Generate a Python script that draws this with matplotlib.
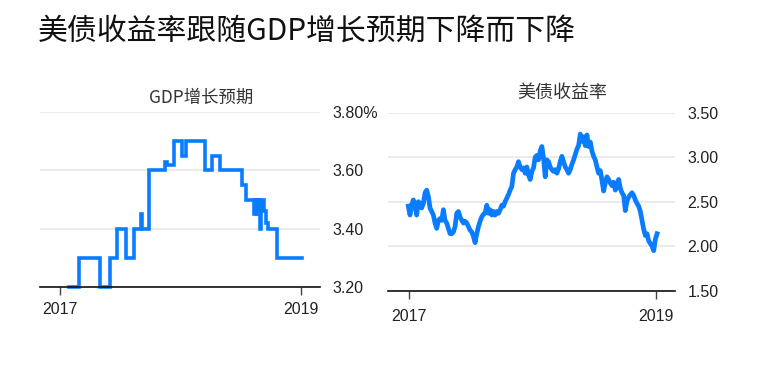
import matplotlib
matplotlib.use('Agg')
import matplotlib.pyplot as plt
import pandas as pd

plt.rcParams['font.family'] = ['Noto Sans CJK SC', 'DejaVu Sans']

BLUE = '#0a7cff'

# GDP growth expectation (step series)
gdp_dates = ['2017-01-28', '2017-02-28', '2017-05-02', '2017-06-02', '2017-06-22',
             '2017-07-19', '2017-08-13', '2017-09-03', '2017-09-07', '2017-09-28',
             '2017-11-15', '2017-11-20', '2017-12-13', '2018-01-05', '2018-01-18',
             '2018-03-17', '2018-04-08', '2018-05-01', '2018-07-06', '2018-07-19',
             '2018-08-12', '2018-08-16', '2018-08-20', '2018-08-24', '2018-08-29',
             '2018-09-02', '2018-09-10', '2018-09-18', '2018-09-24', '2018-10-20',
             '2019-01-04']
gdp_values = [3.20, 3.30, 3.20, 3.30, 3.40,
              3.30, 3.40, 3.45, 3.40, 3.60,
              3.63, 3.62, 3.70, 3.65, 3.70,
              3.60, 3.65, 3.60, 3.55, 3.50,
              3.45, 3.50, 3.45, 3.50, 3.40,
              3.50, 3.46, 3.42, 3.40, 3.30,
              3.30]
gdp_ticks = [3.20, 3.40, 3.60, 3.80]
gdp_ticklabels = ['3.20', '3.40', '3.60', '3.80%']

# US treasury yield
yield_start, yield_end = '2016-12-30', '2019-01-03'
yield_values = [
    2.45, 2.35, 2.46, 2.52, 2.46, 2.35, 2.50, 2.48, 2.43, 2.48,
    2.60, 2.63, 2.56, 2.43, 2.39, 2.35, 2.26, 2.20, 2.29, 2.31,
    2.29, 2.41, 2.29, 2.26, 2.20, 2.14, 2.14, 2.16, 2.22, 2.37,
    2.39, 2.33, 2.29, 2.26, 2.28, 2.26, 2.22, 2.18, 2.16, 2.11,
    2.04, 2.14, 2.22, 2.28, 2.33, 2.36, 2.37, 2.46, 2.37, 2.41,
    2.35, 2.39, 2.35, 2.39, 2.37, 2.41, 2.46, 2.45, 2.50, 2.54,
    2.58, 2.63, 2.67, 2.82, 2.86, 2.89, 2.95, 2.89, 2.86, 2.88,
    2.82, 2.89, 2.80, 2.75, 2.84, 2.88, 3.00, 3.02, 2.97, 3.07,
    3.12, 2.99, 2.78, 2.97, 2.95, 2.89, 2.86, 2.84, 2.86, 2.82,
    2.87, 2.95, 3.01, 2.95, 2.89, 2.86, 2.82, 2.86, 2.92, 2.97,
    3.03, 3.09, 3.13, 3.26, 3.18, 3.23, 3.13, 3.25, 3.12, 3.17,
    3.07, 3.01, 2.97, 2.89, 2.82, 2.85, 2.74, 2.62, 2.71, 2.78,
    2.75, 2.71, 2.68, 2.72, 2.63, 2.67, 2.75, 2.65, 2.60, 2.57,
    2.40, 2.51, 2.55, 2.58, 2.60, 2.57, 2.52, 2.48, 2.45, 2.39,
    2.29, 2.19, 2.12, 2.14, 2.06, 2.03, 2.00, 1.95, 2.08, 2.14]
yield_ticks = [1.50, 2.00, 2.50, 3.00, 3.50]
yield_ticklabels = ['1.50', '2.00', '2.50', '3.00', '3.50']

year_ticks = ['2017-01-01', '2019-01-01']
year_labels = ['2017', '2019']

W, H = 766, 373
fig = plt.figure(figsize=(W / 100, H / 100), dpi=100)


def style_axis(ax, ticks, ticklabels, xpad):
    ax.set_yticks(ticks)
    ax.set_yticklabels(ticklabels, family=['Liberation Sans', 'DejaVu Sans'],
                       fontsize=11.5, color='#222222')
    ax.yaxis.tick_right()
    ax.tick_params(axis='y', length=0, pad=9)
    ax.grid(axis='y', color='#ebebeb', linewidth=1.5)
    ax.set_axisbelow(True)
    for s in ['top', 'left', 'right']:
        ax.spines[s].set_visible(False)
    ax.spines['bottom'].set_color('#111111')
    ax.spines['bottom'].set_linewidth(1.2)
    ax.set_xticks(pd.to_datetime(year_ticks))
    ax.set_xticklabels(year_labels, family=['Liberation Sans', 'DejaVu Sans'],
                       fontsize=11.5, color='#222222')
    ax.tick_params(axis='x', length=6, width=1, color='#444444', pad=xpad)


# left panel: GDP expectations
ax1 = fig.add_axes([40 / W, 1 - 287 / H, 280 / W, 175 / H])
ax1.plot(pd.to_datetime(gdp_dates), gdp_values, drawstyle='steps-post',
         color=BLUE, linewidth=2.6, clip_on=False, solid_joinstyle='miter')
ax1.set_ylim(3.20, 3.80)
ax1.set_xlim(pd.Timestamp('2016-11-01'), pd.Timestamp('2019-02-28'))
style_axis(ax1, gdp_ticks, gdp_ticklabels, 5)

# right panel: treasury yield
ax2 = fig.add_axes([388 / W, 1 - 290.7 / H, 287 / W, 178 / H])
ydates = pd.date_range(yield_start, yield_end, periods=len(yield_values))
ax2.plot(ydates, yield_values, color=BLUE, linewidth=3.4, clip_on=False)
ax2.set_ylim(1.50, 3.50)
ax2.set_xlim(pd.Timestamp('2016-10-31'), pd.Timestamp('2019-02-25'))
style_axis(ax2, yield_ticks, yield_ticklabels, 7)

fig.text(38 / W, 1 - 31 / H, '美债收益率跟随GDP增长预期下降而下降',
         fontsize=21.5, color='#111111', va='center', ha='left')
fig.text(201 / W, 1 - 98 / H, 'GDP增长预期', fontsize=12.5, color='#333333',
         va='center', ha='center')
fig.text(562 / W, 1 - 93 / H, '美债收益率', fontsize=13, color='#333333',
         va='center', ha='center')

fig.savefig('out.png', dpi=100)
